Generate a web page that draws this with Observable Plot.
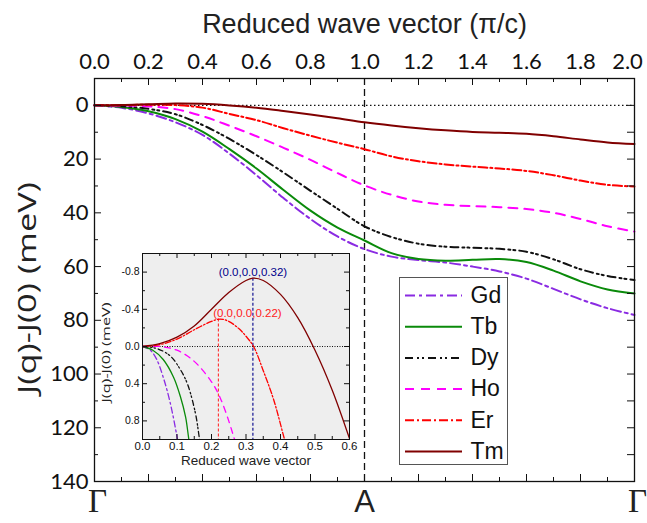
<!DOCTYPE html>
<html><head><meta charset="utf-8">
<script src="https://cdn.jsdelivr.net/npm/d3@7"></script>
<script src="https://cdn.jsdelivr.net/npm/@observablehq/plot@0.6"></script>
<style>
body{margin:0;background:#fff;}
#chart{position:relative;width:647px;height:523px;overflow:hidden;}
#chart > div, #chart > svg{position:absolute;}
#legend{border:1px solid #555;background:#fff;box-sizing:border-box;}
</style>
</head><body><div id="chart"></div>
<script>
// ---------- data ----------
const seriesNames = ["Gd", "Tb", "Dy", "Ho", "Er", "Tm"];
const qMain = [0, 0.1, 0.2, 0.3, 0.4, 0.5, 0.6, 0.7, 0.8, 0.9, 1.0, 1.1, 1.2, 1.3, 1.4, 1.5, 1.6, 1.7, 1.8, 1.9, 2.0];
const gdMain = [0, 0.9, 3, 6.3, 11, 18, 26, 34.5, 42.3, 48.8, 53.5, 56.3, 57.6, 58.5, 60, 61.8, 64.5, 68.3, 72.2, 75.5, 78];
const tbMain = [0, 0.6, 2.2, 5.1, 9.8, 16.3, 23.5, 31.5, 39.2, 45.5, 50.3, 55, 57.2, 57.8, 57.5, 57.2, 58.3, 61.5, 65.5, 68.5, 70];
const dyMain = [0, 0.3, 1.3, 3.3, 7.3, 12.5, 18.5, 25, 31.8, 38.5, 45, 49, 51.5, 52.6, 53, 53.4, 54.5, 57.3, 61, 63.5, 65];
const hoMain = [0, 0.05, 0.38, 1.4, 4, 7.6, 11.5, 15.8, 20.3, 25.2, 29.8, 33.3, 35.8, 37, 37.5, 37.9, 38.6, 40, 42.3, 45, 47];
const erMain = [0, -0.08, -0.25, -0.1, 0.84, 3.2, 5.5, 8.5, 11.3, 13.9, 16.3, 19, 20.8, 22, 22.8, 23.5, 24.4, 26, 28, 29.6, 30.2];
const tmMain = [0, -0.1, -0.4, -0.71, -0.56, 0.04, 0.9, 2.1, 3.4, 4.8, 6.3, 7.5, 8.5, 9.3, 9.9, 10.2, 10.6, 11.5, 12.7, 13.8, 14.4];

// inset (zoom of small q)
const gdInsetQ = [0, 0.02, 0.04, 0.06, 0.08, 0.1, 0.11];
const gdInsetJ = [0, 0.03, 0.13, 0.33, 0.6, 0.97, 1.2];
const tbInsetQ = [0, 0.03, 0.06, 0.09, 0.11, 0.125, 0.134, 0.145];
const tbInsetJ = [0, 0.04, 0.14, 0.33, 0.54, 0.76, 0.99, 1.25];
const dyInsetQ = [0, 0.04, 0.08, 0.11, 0.13, 0.153, 0.165, 0.18];
const dyInsetJ = [0, 0.02, 0.1, 0.25, 0.4, 0.71, 0.99, 1.35];
const hoInsetQ = [0, 0.05, 0.1, 0.15, 0.2, 0.225, 0.25, 0.266, 0.28];
const hoInsetJ = [0, 0.0, 0.04, 0.16, 0.38, 0.55, 0.8, 0.99, 1.15];
const erInsetQ = [0, 0.05, 0.1, 0.15, 0.2, 0.225, 0.25, 0.28, 0.3, 0.322, 0.35, 0.38, 0.411, 0.43];
const erInsetJ = [0, -0.02, -0.08, -0.18, -0.27, -0.295, -0.27, -0.19, -0.11, 0, 0.26, 0.57, 0.99, 1.25];
const tmInsetQ = [0, 0.05, 0.1, 0.15, 0.2, 0.25, 0.3, 0.32, 0.35, 0.4, 0.45, 0.5, 0.55, 0.6];
const tmInsetJ = [0, -0.03, -0.1, -0.22, -0.4, -0.58, -0.71, -0.735, -0.71, -0.56, -0.31, 0.04, 0.47, 0.99];

const peakQ = [0.32, 0.22];
const peakJ = [-0.735, -0.295];
const peakLabels = ["(0.0,0.0,0.32)", "(0.0,0.0,0.22)"];

// tick labels
const xTopTicks = [0, 0.2, 0.4, 0.6, 0.8, 1.0, 1.2, 1.4, 1.6, 1.8, 2.0];
const xMinorTicks = [0.1, 0.3, 0.5, 0.7, 0.9, 1.1, 1.3, 1.5, 1.7, 1.9];
const yTicks = [0, 20, 40, 60, 80, 100, 120, 140];
const yMinorTicks = [10, 30, 50, 70, 90, 110, 130];
const pointLabelsX = [0, 1, 2];
const pointLabels = ["Γ", "A", "Γ"];
const insetXTicks = [0, 0.1, 0.2, 0.3, 0.4, 0.5, 0.6];
const insetXMinor = [0.05, 0.15, 0.25, 0.35, 0.45, 0.55];
const insetYTicks = [-0.8, -0.4, 0, 0.4, 0.8];
const insetYMinor = [-0.6, -0.2, 0.2, 0.6];
const titleText = "Reduced wave vector (π/c)";
const yLabelText = "J(q)-J(0) (meV)";
const insetXLabel = "Reduced wave vector";

// ---------- styles ----------
const colors = {Gd: "#8a2be2", Tb: "#0a8a0a", Dy: "#111111", Ho: "#ff00ff", Er: "#ff0000", Tm: "#800000"};
const dashes = {Gd: "10,4,3,4", Tb: null, Dy: "8,4,2,3,2,4", Ho: "9,7", Er: "9,3,2,3", Tm: null};
const insetDashes = {Gd: "6,3,2,3", Tb: null, Dy: "5,3,1.5,2,1.5,3", Ho: "6,5", Er: "6,2,1.5,2", Tm: null};

const mainVals = {Gd: gdMain, Tb: tbMain, Dy: dyMain, Ho: hoMain, Er: erMain, Tm: tmMain};
const insetQ = {Gd: gdInsetQ, Tb: tbInsetQ, Dy: dyInsetQ, Ho: hoInsetQ, Er: erInsetQ, Tm: tmInsetQ};
const insetJ = {Gd: gdInsetJ, Tb: tbInsetJ, Dy: dyInsetJ, Ho: hoInsetJ, Er: erInsetJ, Tm: tmInsetJ};

const chart = document.getElementById("chart");
const W = 647, H = 523;
const mL = 94, mR = 13, mT = 78, mB = 42;
const fW = W - mL - mR, fH = H - mT - mB;
const tickFont = "Lato";

function stretch(svg, content, len) {
  d3.select(svg).selectAll("text").filter(function () { return this.textContent === content; })
    .attr("textLength", len).attr("lengthAdjust", "spacingAndGlyphs");
}

// ---------- main plot ----------
const mainLines = seriesNames.map(name => Plot.line(
  qMain.map((q, i) => ({q, J: mainVals[name][i]})),
  {x: "q", y: "J", stroke: colors[name], strokeWidth: 2, strokeDasharray: dashes[name], curve: "catmull-rom"}
));

const main = Plot.plot({
  width: W, height: H,
  marginLeft: mL, marginRight: mR, marginTop: mT, marginBottom: mB,
  x: {domain: [0, 2]},
  y: {domain: [-10, 140], reverse: true},
  style: {fontFamily: tickFont, background: "transparent", color: "#111"},
  marks: [
    Plot.ruleY([0], {stroke: "#111", strokeDasharray: "1.5,2.5", strokeWidth: 1.3}),
    Plot.ruleX([1.0], {stroke: "#111", strokeDasharray: "7,4", strokeWidth: 1.3}),
    ...mainLines,
    // inward ticks
    Plot.ruleX(xTopTicks, {x: d => d, insetBottom: fH - 7, stroke: "#111"}),
    Plot.ruleX(xMinorTicks, {x: d => d, insetBottom: fH - 4, stroke: "#111"}),
    Plot.ruleX(xTopTicks, {x: d => d, insetTop: fH - 7, stroke: "#111"}),
    Plot.ruleX(xMinorTicks, {x: d => d, insetTop: fH - 4, stroke: "#111"}),
    Plot.ruleY(yTicks, {y: d => d, insetRight: fW - 7, stroke: "#111"}),
    Plot.ruleY(yMinorTicks, {y: d => d, insetRight: fW - 4, stroke: "#111"}),
    Plot.ruleY(yTicks, {y: d => d, insetLeft: fW - 7, stroke: "#111"}),
    Plot.ruleY(yMinorTicks, {y: d => d, insetLeft: fW - 7, stroke: "#111"}),
    Plot.frame({stroke: "#111", strokeWidth: 1.3}),
    Plot.axisX(xTopTicks.slice(0, -1), {anchor: "top", tickSize: 0, tickPadding: 10, fontSize: 22, tickFormat: d => d.toFixed(1), label: null}),
    Plot.axisX(xTopTicks.slice(-1), {anchor: "top", tickSize: 0, tickPadding: 10, fontSize: 22, dx: -7, tickFormat: d => d.toFixed(1), label: null}),
    Plot.axisY(yTicks, {anchor: "left", tickSize: 0, tickPadding: 6, fontSize: 22, tickFormat: d => String(d), label: null}),
    Plot.text([titleText], {frameAnchor: "top", dy: -65, fontSize: 27, fontFamily: "Liberation Sans", fill: "#222"}),
    Plot.text([yLabelText], {frameAnchor: "left", textAnchor: "middle", dx: -67, dy: 8, rotate: -90, fontSize: 26, fontFamily: "Open Sans", fill: "#222"}),
    Plot.text(pointLabelsX.filter((d, i) => pointLabels[i] === "Γ"), {x: d => d, text: d => pointLabels[pointLabelsX.indexOf(d)], frameAnchor: "bottom", dy: 30, dx: 3, fontSize: 33, fontFamily: "Liberation Serif", fill: "#222"}),
    Plot.text(pointLabelsX.filter((d, i) => pointLabels[i] === "A"), {x: d => d, text: d => pointLabels[pointLabelsX.indexOf(d)], frameAnchor: "bottom", dy: 30, fontSize: 31, fontFamily: "Liberation Sans", fill: "#222"})
  ]
});
main.style.left = "0px"; main.style.top = "0px";
stretch(main, yLabelText, 212);
chart.appendChild(main);

// ---------- inset ----------
const iW = 280, iH = 232, iL = 62, iR = 11, iT = 8, iB = 38;
const ifW = iW - iL - iR, ifH = iH - iT - iB;
const insetLines = seriesNames.map(name => Plot.line(
  insetQ[name].map((q, i) => ({q, J: insetJ[name][i]})),
  {x: "q", y: "J", stroke: colors[name], strokeWidth: 1.3, strokeDasharray: insetDashes[name], curve: "catmull-rom", clip: true}
));
const peaks = peakQ.map((q, i) => ({q, J: peakJ[i], label: peakLabels[i]}));
const inset = Plot.plot({
  width: iW, height: iH,
  marginLeft: iL, marginRight: iR, marginTop: iT, marginBottom: iB,
  x: {domain: [0, 0.6]},
  y: {domain: [-1, 1], reverse: true},
  style: {fontFamily: "Liberation Sans", background: "transparent", color: "#111"},
  marks: [
    Plot.frame({fill: "#eeeeee", stroke: null}),
    Plot.ruleY([0], {stroke: "#111", strokeDasharray: "1,1.5", strokeWidth: 1}),
    Plot.ruleX([peaks[0]], {x: "q", y1: "J", y2: 1, stroke: "#00008b", strokeDasharray: "3,2", strokeWidth: 1.1}),
    Plot.ruleX([peaks[1]], {x: "q", y1: "J", y2: 1, stroke: "#ff3030", strokeDasharray: "3,2", strokeWidth: 1.1}),
    ...insetLines,
    Plot.text([peaks[0]], {x: "q", y: "J", text: "label", lineAnchor: "bottom", dy: -2, fontSize: 11.5, fill: "#00008b"}),
    Plot.text([peaks[1]], {x: "q", y: "J", text: "label", lineAnchor: "bottom", dy: -2, dx: 29, fontSize: 11.5, fill: "#ff2020"}),
    Plot.ruleX(insetXTicks, {x: d => d, insetBottom: ifH - 5, stroke: "#111"}),
    Plot.ruleX(insetXMinor, {x: d => d, insetBottom: ifH - 3, stroke: "#111"}),
    Plot.ruleX(insetXTicks, {x: d => d, insetTop: ifH - 5, stroke: "#111"}),
    Plot.ruleX(insetXMinor, {x: d => d, insetTop: ifH - 3, stroke: "#111"}),
    Plot.ruleY(insetYTicks, {y: d => d, insetRight: ifW - 5, stroke: "#111"}),
    Plot.ruleY(insetYMinor, {y: d => d, insetRight: ifW - 3, stroke: "#111"}),
    Plot.ruleY(insetYTicks, {y: d => d, insetLeft: ifW - 5, stroke: "#111"}),
    Plot.ruleY(insetYMinor, {y: d => d, insetLeft: ifW - 3, stroke: "#111"}),
    Plot.frame({stroke: "#111", strokeWidth: 1}),
    Plot.axisX(insetXTicks, {anchor: "bottom", tickSize: 0, tickPadding: 2, fontSize: 11.5, tickFormat: d => d.toFixed(1), label: null}),
    Plot.axisY(insetYTicks, {anchor: "left", tickSize: 0, tickPadding: 3, fontSize: 10.5, tickFormat: d => d.toFixed(1), label: null}),
    Plot.text([insetXLabel], {frameAnchor: "bottom", dy: 25, fontSize: 13.5, fill: "#222"}),
    Plot.text([yLabelText], {frameAnchor: "left", textAnchor: "middle", dx: -36, dy: 6, rotate: -90, fontSize: 11.5, fontFamily: "Open Sans", fill: "#222"})
  ]
});
inset.style.left = "80px"; inset.style.top = "245px";
stretch(inset, yLabelText, 100);
chart.appendChild(inset);

// ---------- legend ----------
const legendDiv = document.createElement("div");
legendDiv.id = "legend";
legendDiv.style.left = "399px"; legendDiv.style.top = "277px";
legendDiv.style.width = "109px"; legendDiv.style.height = "188px";
const lgMarks = [];
seriesNames.forEach((name, i) => {
  lgMarks.push(Plot.ruleY([i], {y: d => d, x1: 0, x2: 1, stroke: colors[name], strokeWidth: 2, strokeDasharray: dashes[name]}));
});
lgMarks.push(Plot.text(seriesNames, {x: 1, y: (d, i) => i, text: d => d, textAnchor: "start", dx: 8, fontSize: 23, fontFamily: "Liberation Sans", fill: "#111"}));
const legend = Plot.plot({
  width: 107, height: 186,
  marginLeft: 5, marginRight: 45, marginTop: 17, marginBottom: 13,
  x: {domain: [0, 1], axis: null},
  y: {domain: [0, seriesNames.length - 1], reverse: true, axis: null},
  style: {background: "transparent"},
  marks: lgMarks
});
legend.style.position = "absolute"; legend.style.left = "0px"; legend.style.top = "0px";
legendDiv.appendChild(legend);
chart.appendChild(legendDiv);
</script>
</body></html>
